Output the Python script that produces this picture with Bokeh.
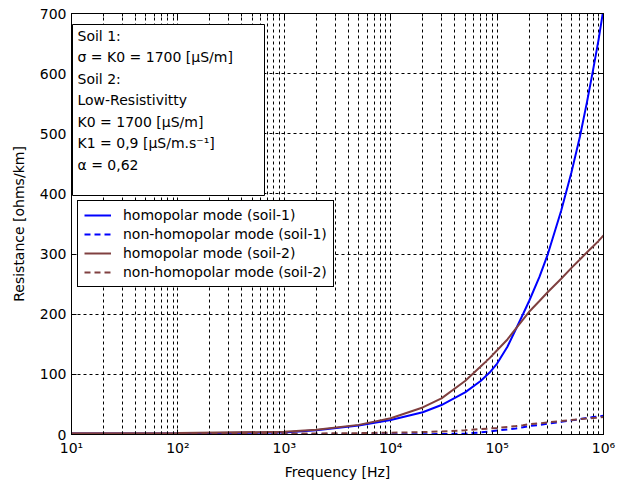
from bokeh.plotting import figure
from bokeh.models import (Range1d, FixedTicker, Legend, LegendItem, LogAxis, LinearAxis,
                          Label, BoxAnnotation, CustomJSTickFormatter, ColumnDataSource)
from bokeh.embed import file_html
from bokeh.resources import INLINE

# ---- data ----
freq = [10, 100, 1e3, 2e3, 5e3, 1e4, 2e4, 3e4, 5e4, 7e4, 8.5e4, 1e5, 1.25e5, 1.5e5,
        1.75e5, 2e5, 2.5e5, 3e5, 4e5, 5e5, 6e5, 7e5, 8e5, 9e5, 1e6]
homo_soil1 = [1.5, 2, 3.5, 7, 15, 24, 37, 49, 70, 89, 103, 118, 146, 175,
              200, 222, 262, 300, 372, 436, 495, 553, 607, 657, 708]
nonhomo_soil1 = [0.3, 0.3, 0.3, 0.3, 0.3, 0.4, 0.5, 0.7, 1.5, 3.5, 5, 6.5, 8.5, 10,
                 12, 14, 16, 18, 21, 23.5, 25.5, 27.5, 29, 30, 31]
homo_soil2 = [2, 2.5, 4.5, 8, 16, 27, 45, 60, 89, 113, 127, 140, 158, 176,
              191, 204, 222, 237, 259, 277, 291, 303, 313, 322, 331]
nonhomo_soil2 = [1, 1, 1.5, 1.8, 2.3, 3, 4, 5, 7, 9, 10, 11, 12.5, 14,
                 15.5, 17, 18.5, 20, 22.5, 24, 25.5, 26.5, 27.5, 28.3, 29]

x_major = [1e1, 1e2, 1e3, 1e4, 1e5, 1e6]
y_major = [0, 100, 200, 300, 400, 500, 600, 700]

legend_labels = ["homopolar mode (soil-1)", "non-homopolar mode (soil-1)",
                 "homopolar mode (soil-2)", "non-homopolar mode (soil-2)"]
info_lines = ["Soil 1:", "σ = K0 = 1700 [µS/m]", "Soil 2:", "Low-Resistivitty",
              "K0 = 1700 [µS/m]", "K1 = 0,9 [µS/m.s⁻¹]", "α = 0,62"]

BLUE = "#0000FF"
BROWN = "#804040"
FONT = "DejaVu Sans"

x_minor = [d * m for d in x_major[:-1] for m in range(2, 10)]

p = figure(width=625, height=489, x_axis_type="log", output_backend="svg",
           toolbar_location=None, x_range=Range1d(10, 1e6), y_range=Range1d(0, 700),
           min_border_left=71, min_border_right=22, min_border_top=13, min_border_bottom=55)
p.background_fill_color = "white"
p.border_fill_color = "white"
p.outline_line_color = "black"
p.outline_line_width = 1

xt = FixedTicker(ticks=x_major, minor_ticks=x_minor)
yt = FixedTicker(ticks=y_major, minor_ticks=[])

fmt = CustomJSTickFormatter(code="""
const sup = {'0':'\u2070','1':'\u00b9','2':'\u00b2','3':'\u00b3','4':'\u2074','5':'\u2075','6':'\u2076','7':'\u2077','8':'\u2078','9':'\u2079'};
const e = Math.round(Math.log10(tick));
let s = '';
for (const c of String(e)) { s += sup[c]; }
return '10' + s;
""")

p.xaxis[0].ticker = xt
p.xaxis[0].formatter = fmt
p.yaxis[0].ticker = yt

def style_axis(ax):
    ax.axis_line_color = "black"
    ax.major_tick_line_color = "black"
    ax.minor_tick_line_color = "black"
    ax.major_tick_in = 5
    ax.major_tick_out = 0
    ax.minor_tick_in = 3
    ax.minor_tick_out = 0
    ax.major_label_text_font = FONT
    ax.major_label_text_font_size = "14px"
    ax.major_label_text_color = "black"
    ax.axis_label_text_font = FONT
    ax.axis_label_text_font_size = "14px"
    ax.axis_label_text_font_style = "normal"
    ax.axis_label_text_color = "black"

style_axis(p.xaxis[0])
style_axis(p.yaxis[0])
p.xaxis[0].axis_label = "Frequency [Hz]"
p.yaxis[0].axis_label = "Resistance [ohms/km]"
p.xaxis[0].major_label_standoff = 5
p.xaxis[0].axis_label_standoff = 5
p.yaxis[0].major_label_standoff = 5
p.yaxis[0].axis_label_standoff = 10

# box-style ticks on top and right (no labels)
top_ax = LogAxis(ticker=xt)
style_axis(top_ax)
top_ax.major_label_text_font_size = "1px"
top_ax.major_label_text_color = None
top_ax.major_label_standoff = 0
right_ax = LinearAxis(ticker=yt)
style_axis(right_ax)
right_ax.major_label_text_font_size = "1px"
right_ax.major_label_text_color = None
right_ax.major_label_standoff = 0
p.add_layout(top_ax, "above")
p.add_layout(right_ax, "right")

for g in (p.xgrid[0], p.ygrid[0]):
    g.grid_line_color = "black"
    g.grid_line_dash = "3 3"
    g.grid_line_width = 1
p.xgrid[0].ticker = xt
p.ygrid[0].ticker = yt
p.xgrid[0].minor_grid_line_color = "black"
p.xgrid[0].minor_grid_line_dash = "3 3"
p.xgrid[0].minor_grid_line_width = 1

src = ColumnDataSource(dict(f=freq, h1=homo_soil1, n1=nonhomo_soil1,
                            h2=homo_soil2, n2=nonhomo_soil2))
r1 = p.line("f", "h1", source=src, line_color=BLUE, line_width=2)
r2 = p.line("f", "n1", source=src, line_color=BLUE, line_width=2, line_dash="6 4")
r3 = p.line("f", "h2", source=src, line_color=BROWN, line_width=2)
r4 = p.line("f", "n2", source=src, line_color=BROWN, line_width=2, line_dash="6 4")

legend = Legend(items=[LegendItem(label=l, renderers=[r]) for l, r in
                       zip(legend_labels, [r1, r2, r3, r4])],
                location=(6, 147))
legend.border_line_color = "black"
legend.border_line_width = 1
legend.border_line_alpha = 1
legend.background_fill_color = "white"
legend.background_fill_alpha = 1
legend.margin = 0
legend.padding = 6
legend.spacing = 3
legend.glyph_width = 27
legend.glyph_height = 16
legend.label_height = 16
legend.label_standoff = 12
legend.label_text_font = FONT
legend.label_text_font_size = "14px"
legend.label_text_color = "black"
p.add_layout(legend, "center")

box = BoxAnnotation(left=1, right=193, top=410, bottom=239,
                    left_units="screen", right_units="screen",
                    top_units="screen", bottom_units="screen",
                    fill_color="white", fill_alpha=1, line_color="black",
                    line_width=1, line_alpha=1)
p.add_layout(box)
for i, t in enumerate(info_lines):
    p.add_layout(Label(x=6, y=399 - 21.5 * i, x_units="screen", y_units="screen",
                       text=t, text_font=FONT, text_font_size="14px",
                       text_baseline="middle", text_align="left", text_color="black"))

open("out.html", "w").write(file_html(p, INLINE))
